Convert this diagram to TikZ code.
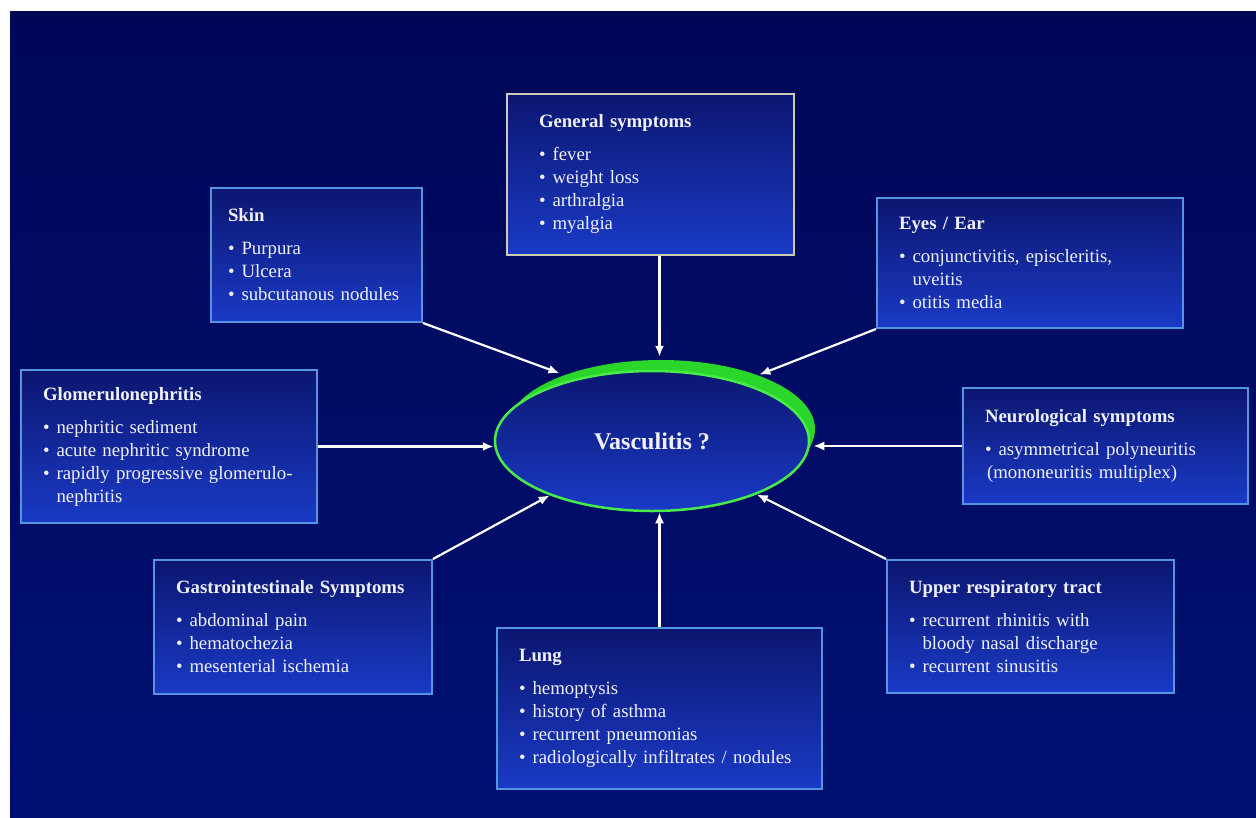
\documentclass[tikz,border=0pt]{standalone}
\usepackage{fontspec}
\setmainfont{Liberation Serif}
\usepackage{tikz}
\usetikzlibrary{shapes.geometric, arrows.meta}

\definecolor{bgtop}{HTML}{000757}
\definecolor{bgbot}{HTML}{001072}
\definecolor{boxtop}{HTML}{0B1670}
\definecolor{boxbot}{HTML}{1A3AC6}
\definecolor{boxedge}{HTML}{5494E2}
\definecolor{genedge}{HTML}{CFCBB2}
\definecolor{glowgreen}{HTML}{2AD62A}
\definecolor{rimgreen}{HTML}{48EC48}
\definecolor{txtwhite}{HTML}{F0F0F8}

\newcommand{\boxhead}[1]{\mbox{\bfseries #1}\par\vspace{10pt}}
\newcommand{\bitem}[1]{\par\hangindent=0.72em\hangafter=1\noindent\makebox[0.72em][l]{\textbullet}#1\par}

\tikzset{
  sbox/.style={draw=boxedge, line width=2pt, top color=boxtop, bottom color=boxbot,
    anchor=north west, align=left, inner ysep=0pt, text=txtwhite,
    font=\fontsize{18.8}{23}\selectfont, execute at begin node=\setlength{\parindent}{0pt}},
  arr/.style={-{Latex[length=11pt,width=9pt]}, draw=white, fill=white, line width=2.2pt},
}

\begin{document}
\begin{tikzpicture}[x=1pt,y=-1pt]

\fill[white] (0,0) rectangle (1256,817);
\useasboundingbox (0,0) rectangle (1256,817);
\shade[top color=bgtop, bottom color=bgbot] (10,11) rectangle (1256,817);

% the center
\coordinate (vc) at (652,441);
\fill[glowgreen] ([xshift=9pt,yshift=12pt]vc) ellipse [x radius=154pt, y radius=69pt];
\node[ellipse, draw=rimgreen, line width=2.5pt, top color=boxtop, bottom color=boxbot,
  minimum width=314pt, minimum height=140pt, inner sep=0pt, text=txtwhite,
  font=\fontsize{24}{28}\selectfont\bfseries] (vasc) at (vc) {Vasculitis ?};

% boxes
\node[sbox, draw=genedge, inner xsep=32pt, text width=223pt, minimum height=161pt] (gen) at (506,93) {\boxhead{General symptoms}
\bitem{fever}
\bitem{weight loss}
\bitem{arthralgia}
\bitem{myalgia}};

\node[sbox, inner xsep=17pt, text width=177pt, minimum height=134pt] (skin) at (210,187) {\boxhead{Skin}
\bitem{Purpura}
\bitem{Ulcera}
\bitem{subcutanous nodules}};

\node[sbox, inner xsep=22pt, text width=262pt, minimum height=130pt] (eyes) at (876,197) {\boxhead{Eyes / Ear}
\bitem{conjunctivitis, episcleritis,\newline uveitis}
\bitem{otitis media}};

\node[sbox, inner xsep=22pt, text width=252pt, minimum height=153pt] (glom) at (20,369) {\boxhead{Glomerulonephritis}
\bitem{nephritic sediment}
\bitem{acute nephritic syndrome}
\bitem{rapidly progressive glomerulo-\newline nephritis}};

\node[sbox, inner xsep=22pt, text width=241pt, minimum height=116pt] (neuro) at (962,387) {\boxhead{Neurological symptoms}
\bitem{asymmetrical polyneuritis}
\hspace*{2pt}(mononeuritis multiplex)\par};

\node[sbox, inner xsep=22pt, text width=234pt, minimum height=134pt] (gi) at (153,559) {\boxhead{Gastrointestinale Symptoms}
\bitem{abdominal pain}
\bitem{hematochezia}
\bitem{mesenterial ischemia}};

\node[sbox, inner xsep=22pt, text width=281pt, minimum height=161pt] (lung) at (496,627) {\boxhead{Lung}
\bitem{hemoptysis}
\bitem{history of asthma}
\bitem{recurrent pneumonias}
\bitem{radiologically infiltrates / nodules}};

\node[sbox, inner xsep=22pt, text width=243pt, minimum height=133pt] (upper) at (886,559) {\boxhead{Upper respiratory tract}
\bitem{recurrent rhinitis with\newline bloody nasal discharge}
\bitem{recurrent sinusitis}};

% arrows
\draw[arr, shorten >=13pt] (gen.south -| lung.north) -- (lung.north |- vasc.north);
\draw[arr] (lung.north) -- (lung.north |- vasc.south);
\draw[arr] (glom.east) -- (glom.east -| vasc.west);
\draw[arr, shorten >=3pt] (neuro.west) -- (neuro.west -| vasc.east);
\draw[arr] (skin.south east) -- ([yshift=10pt]vasc.148.7);
\draw[arr] (eyes.south west) -- ([yshift=14pt]vasc.26.3);
\draw[arr] (gi.north east) -- (vasc.208.4);
\draw[arr] (upper.north west) -- (vasc.333.2);
\end{tikzpicture}
\end{document}
